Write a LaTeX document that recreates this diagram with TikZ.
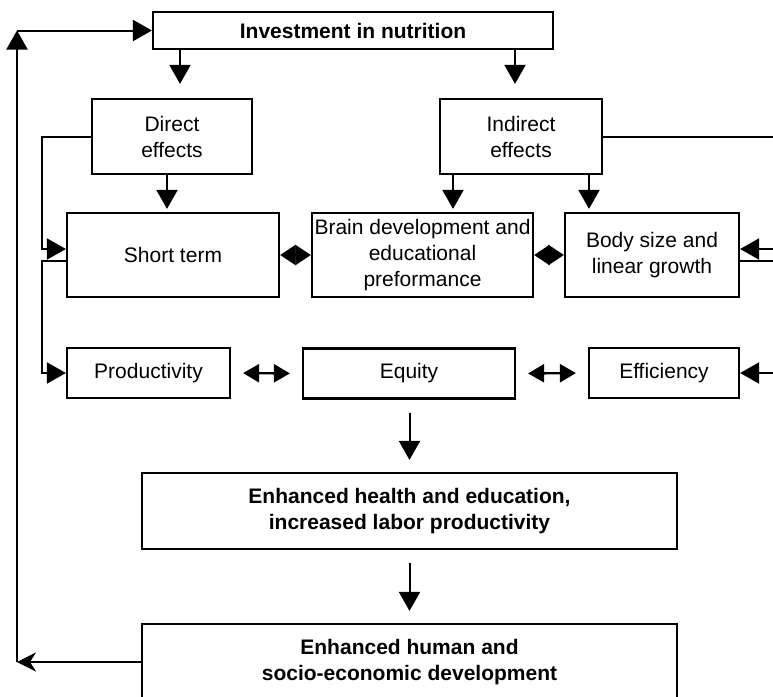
\documentclass[tikz,border=0pt]{standalone}
\usepackage{fontspec}
\setmainfont{Liberation Sans}
\usetikzlibrary{arrows.meta, positioning, calc}
\tikzset{
	flowbox/.style={draw, line width=2.2pt, inner sep=0pt, align=center,
		font=\fontsize{21}{26}\selectfont}
}
\tikzset{
	boldbox/.style={flowbox, font=\fontsize{21}{26}\selectfont\bfseries}
}
\tikzset{
	flow/.style={line width=2pt, -{Triangle[length=19pt,width=21pt]}},
	back/.style={line width=2pt, -{Stealth[length=19pt,width=19pt,inset=6pt]}},
	plain/.style={line width=2pt},
	diam/.style={line width=2pt, {Triangle[length=15.5pt,width=20pt]}-{Triangle[length=15.5pt,width=20pt]}},
	twoway/.style={line width=2.4pt, {Triangle[length=16pt,width=18pt]}-{Triangle[length=16pt,width=18pt]},
		shorten <=12pt, shorten >=12pt}
}

\begin{document}
\begin{tikzpicture}[x=1pt, y=-1pt]
  \clip (0,0) rectangle (773,696);
  % boxes
  \node[boldbox, minimum width=400pt, minimum height=37pt] (invest) at (353,30.5) {Investment in nutrition};
  \node[flowbox, minimum width=160pt, minimum height=75pt] (direct) at (172,136.5) {Direct\\effects};
  \node[flowbox, minimum width=162pt, minimum height=75pt] (indirect) at (521,136.5) {Indirect\\effects};
  \node[flowbox, minimum width=212pt, minimum height=84pt] (short) at (173,255) {Short term};
  \node[flowbox, minimum width=221pt, minimum height=84pt] (brain) at (422.5,255) {Brain development and\\educational\\preformance};
  \node[flowbox, minimum width=174pt, minimum height=84pt] (body) at (652,255) {Body size and\\linear growth};
  \node[flowbox, minimum width=163pt, minimum height=50pt] (prod) at (148.5,373) {Productivity};
  \node[flowbox, minimum width=212pt, minimum height=50pt] (equity) at (409,373.5) {Equity};
  \node[flowbox, minimum width=150pt, minimum height=50pt] (eff) at (664,373) {Efficiency};
  \node[boldbox, minimum width=535pt, minimum height=76pt] (health) at (409.5,511) {Enhanced health and education,\\increased labor productivity};
  \node[boldbox, minimum width=535pt, minimum height=76pt] (human) at (409.5,662) {Enhanced human and\\socio-economic development};
  % bus lines
  \coordinate (lbus) at (42,0);
  \coordinate (obus) at (17,0);
  \coordinate (redge) at (790,0);
  % top to effects
  \draw[flow, shorten >=14pt] ([xshift=8pt]direct.north |- invest.south) -- ([xshift=8pt]direct.north);
  \draw[flow, shorten >=14pt] ([xshift=-6pt]indirect.north |- invest.south) -- ([xshift=-6pt]indirect.north);
  \draw[flow, shorten >=3pt] ([xshift=-5pt]direct.south) -- ([xshift=-5pt]direct.south |- short.north);
  \draw[flow, shorten >=3pt] ([xshift=-68pt]indirect.south) -- ([xshift=-68pt]indirect.south |- brain.north);
  \draw[flow, shorten >=3pt] ([xshift=68pt]indirect.south) -- ([xshift=68pt]indirect.south |- body.north);
  % left side
  \draw[flow] (direct.west) -- (direct.west -| lbus) |- ([yshift=6pt]short.west);
  \draw[flow] ([yshift=-6pt]short.west) -- ([yshift=-6pt]short.west -| lbus) |- (prod.west);
  % links between boxes
  \draw[diam] (short.east) -- (brain.west);
  \draw[diam] (brain.east) -- (body.west);
  \draw[twoway] (prod.east) -- (equity.west);
  \draw[twoway] (equity.east) -- (eff.west);
  % right side
  \draw[plain] (indirect.east) -- (indirect.east -| redge);
  \draw[flow] ([yshift=6pt]body.east -| redge) -- ([yshift=6pt]body.east);
  \draw[plain] ([yshift=-6pt]body.east) -- ([yshift=-6pt]body.east -| redge);
  \draw[flow] (eff.east -| redge) -- (eff.east);
  % downwards
  \draw[flow, shorten <=13pt, shorten >=12pt] (equity.south -| health.north) -- (health.north);
  \draw[flow, shorten <=13pt, shorten >=12pt] (health.south) -- (human.north);
  % feedback loop
  \draw[back] (human.west) -- (human.west -| obus);
  \draw[flow] (human.west -| obus) -- (invest.west -| obus);
  \draw[flow] (invest.west -| obus) -- (invest.west);
\end{tikzpicture}
\end{document}
